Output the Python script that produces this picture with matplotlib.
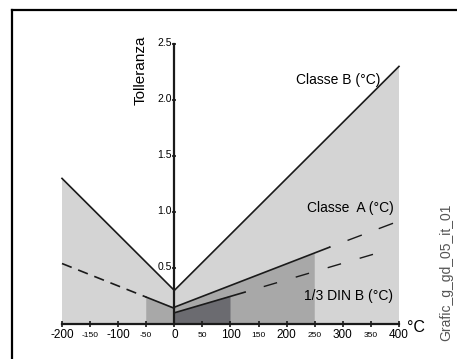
import matplotlib
matplotlib.use("Agg")
import matplotlib.pyplot as plt
from matplotlib.lines import Line2D

plt.rcParams['font.family'] = ['Liberation Sans', 'DejaVu Sans']
plt.rcParams['lines.scale_dashes'] = False

# tolerance curves (temperature in degC, tolerance in degC)
class_b_t = [-200, 0, 400]
class_b_v = [1.3, 0.3, 2.3]

# class A: dashed left part, solid middle, dashed right part
class_a_left_t = [-200, -50]
class_a_left_v = [0.54, 0.24]
class_a_mid_t = [-50, 0, 0, 276]
class_a_mid_v = [0.24, 0.14, 0.15, 0.685]
class_a_right_t = [276, 395]
class_a_right_v = [0.685, 0.91]

din_mid_t = [0, 126]
din_mid_v = [0.1, 0.285]
din_right_t = [126, 366]
din_right_v = [0.285, 0.64]

# shaded areas
area_b_t = [-200, -200, 0, 400, 400]
area_b_v = [0, 1.3, 0.3, 2.3, 0]
area_a_t = [-50, -50, 0, 250, 250]
area_a_v = [0, 0.24, 0.15, 0.63, 0]
area_din_t = [0, 0, 100, 100]
area_din_v = [0, 0.1, 0.25, 0]

x_major = [-200, -100, 0, 100, 200, 300, 400]
x_minor = [-150, -50, 50, 150, 250, 350]
y_ticks = [0.5, 1.0, 1.5, 2.0, 2.5]
y_labels = ['0.5', '1.0', '1.5', '2.0', '2.5']

fig = plt.figure(figsize=(4.57, 3.59), dpi=100)
ax = fig.add_axes([0, 0, 1, 1])
ax.set_xlim(-310.4, 503.3)
ax.set_ylim(-0.3125, 2.893)
ax.axis('off')

ax.fill(area_b_t, area_b_v, color='#d4d4d4', lw=0)
ax.fill(area_a_t, area_a_v, color='#a8a8a8', lw=0)
ax.fill(area_din_t, area_din_v, color='#6b6b70', lw=0)

k = '#1a1a1a'
ax.plot(class_b_t, class_b_v, color=k, lw=1.2)
ax.plot(class_a_left_t, class_a_left_v, color=k, lw=1.2, linestyle=(0, (7.5, 5)))
ax.plot(class_a_mid_t, class_a_mid_v, color=k, lw=1.2)
ax.plot(class_a_right_t, class_a_right_v, color=k, lw=1.0, linestyle=(10, (11, 13)))
ax.plot(din_mid_t, din_mid_v, color=k, lw=1.2)
ax.plot(din_right_t, din_right_v, color=k, lw=1.0, linestyle=(10, (10, 14)))

# axes lines
ax.plot([-200, 400], [0, 0], color=k, lw=1.6)
ax.plot([0, 0], [0, 2.5], color=k, lw=1.6)
ax.plot(x_major + x_minor, [0] * 13, linestyle='none', marker='|', ms=4, mew=1.2, color=k)
ax.plot([0] * 5, y_ticks, linestyle='none', marker='_', ms=3, mew=1.2, color=k)

for t in x_major:
    ax.text(t, -0.1, str(t), ha='center', va='center', fontsize=8.5)
for t in x_minor:
    ax.text(t, -0.1, str(t), ha='center', va='center', fontsize=6)
for v, s in zip(y_ticks, y_labels):
    ax.text(-5, v + 0.01, s, ha='right', va='center', fontsize=7.5)

ax.text(-60, 2.27, 'Tolleranza', rotation=90, ha='center', va='center', fontsize=11)
ax.text(414, -0.035, '°C', ha='left', va='center', fontsize=11.5)
ax.text(291, 2.18, 'Classe B (°C)', ha='center', va='center', fontsize=10)
ax.text(313, 1.04, 'Classe  A (°C)', ha='center', va='center', fontsize=10)
ax.text(311, 0.25, '1/3 DIN B (°C)', ha='center', va='center', fontsize=10)

fig.text(446 / 457, 1 - 272 / 359, 'Grafic_g_gd_05_it_01', rotation=90,
         ha='center', va='center', fontsize=10, color='#555555')

# frame
fig.add_artist(Line2D([12 / 457, 12 / 457], [0, 1 - 10 / 359], color='black', lw=1.6))
fig.add_artist(Line2D([12 / 457, 1], [1 - 10 / 359, 1 - 10 / 359], color='black', lw=1.6))

fig.savefig('out.png', dpi=100)
